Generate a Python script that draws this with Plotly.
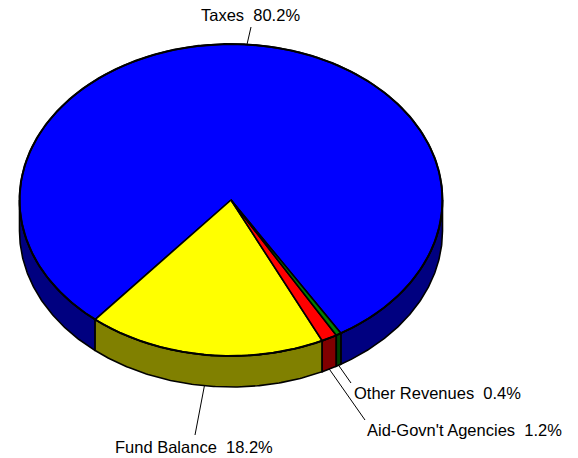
import numpy as np
import plotly.graph_objects as go

# Revenue shares (percent)
categories = ["Taxes", "Fund Balance", "Aid-Govn't Agencies", "Other Revenues"]
values = [80.2, 18.2, 1.2, 0.4]
top_colors = ["#0000FF", "#FFFF00", "#FF0000", "#008000"]
side_colors = ["#000080", "#808000", "#800000", "#004000"]

# Pie geometry in pixel space (x right, y down)
W, H = 578, 458
CX, CY = 231.0, 200.0
RX, RY = 211.5, 156.0
DEPTH = 31.0
START_DEG = -58.7          # first slice begins here, slices run counter-clockwise
LINE = dict(color="black", width=1.6)
FONT = dict(family="Liberation Sans, Arial, sans-serif", size=16.5, color="black")


def arc(a, b, dy=0.0, step=1.0):
    n = max(2, int(abs(b - a) / step) + 2)
    t = np.radians(np.linspace(a, b, n))
    return CX + RX * np.cos(t), CY - RY * np.sin(t) + dy


def point(deg, dy=0.0):
    t = np.radians(deg)
    return CX + RX * np.cos(t), CY - RY * np.sin(t) + dy


total = sum(values)
bounds = []
acc = START_DEG
for v in values:
    span = 360.0 * v / total
    bounds.append((acc, acc + span))
    acc += span

fig = go.Figure()

# Outer walls: only the parts facing the viewer (lower half of the ellipse)
for (a, b), col in zip(bounds, side_colors):
    for k in range(-1, 3):
        lo, hi = max(a, 180 + 360 * k), min(b, 360 + 360 * k)
        if hi <= lo:
            continue
        xt, yt = arc(lo, hi, step=0.5)
        xb, yb = arc(hi, lo, dy=DEPTH, step=0.5)
        xs = np.concatenate([xt, xb, xt[:1]])
        ys = np.concatenate([yt, yb, yt[:1]])
        fig.add_trace(go.Scatter(x=xs, y=ys, mode="lines", fill="toself",
                                 fillcolor=col, line=LINE, hoverinfo="skip"))

# Top faces
for (a, b), col in zip(bounds, top_colors):
    xa, ya = arc(a, b, step=0.5)
    xs = np.concatenate([[CX], xa, [CX]])
    ys = np.concatenate([[CY], ya, [CY]])
    fig.add_trace(go.Scatter(x=xs, y=ys, mode="lines", fill="toself",
                             fillcolor=col, line=LINE, hoverinfo="skip"))

# Rim of the top face, slightly heavier
xr, yr = arc(0, 360, step=0.5)
fig.add_trace(go.Scatter(x=xr, y=yr, mode="lines",
                         line=dict(color="black", width=2), hoverinfo="skip"))

# Labels with leader lines from each slice's mid-angle
label_pos = {
    "Taxes": (251, 27, 250, 15, "center"),
    "Fund Balance": (195, 435, 194, 447, "center"),
    "Aid-Govn't Agencies": (365, 420, 365, 430, "left"),
    "Other Revenues": (351, 383, 352, 393, "left"),
}
for cat, v, (a, b) in zip(categories, values, bounds):
    mid = (a + b) / 2.0
    if np.sin(np.radians(mid)) > 0:
        px, py = point(mid)
    else:
        px, py = point(mid, dy=DEPTH)
    lx, ly, tx, ty, anchor = label_pos[cat]
    fig.add_trace(go.Scatter(x=[px, lx], y=[py, ly], mode="lines",
                             line=dict(color="black", width=1), hoverinfo="skip"))
    fig.add_annotation(x=tx, y=ty, xref="x", yref="y",
                       text=f"{cat}\u00a0 {v:.1f}%", showarrow=False,
                       xanchor=anchor, yanchor="middle", font=FONT)

fig.update_layout(
    width=W, height=H, margin=dict(l=0, r=0, t=0, b=0),
    paper_bgcolor="white", plot_bgcolor="white", showlegend=False,
    xaxis=dict(range=[0, W], visible=False, fixedrange=True),
    yaxis=dict(range=[H, 0], visible=False, fixedrange=True),
)
fig.write_html("out.html")
